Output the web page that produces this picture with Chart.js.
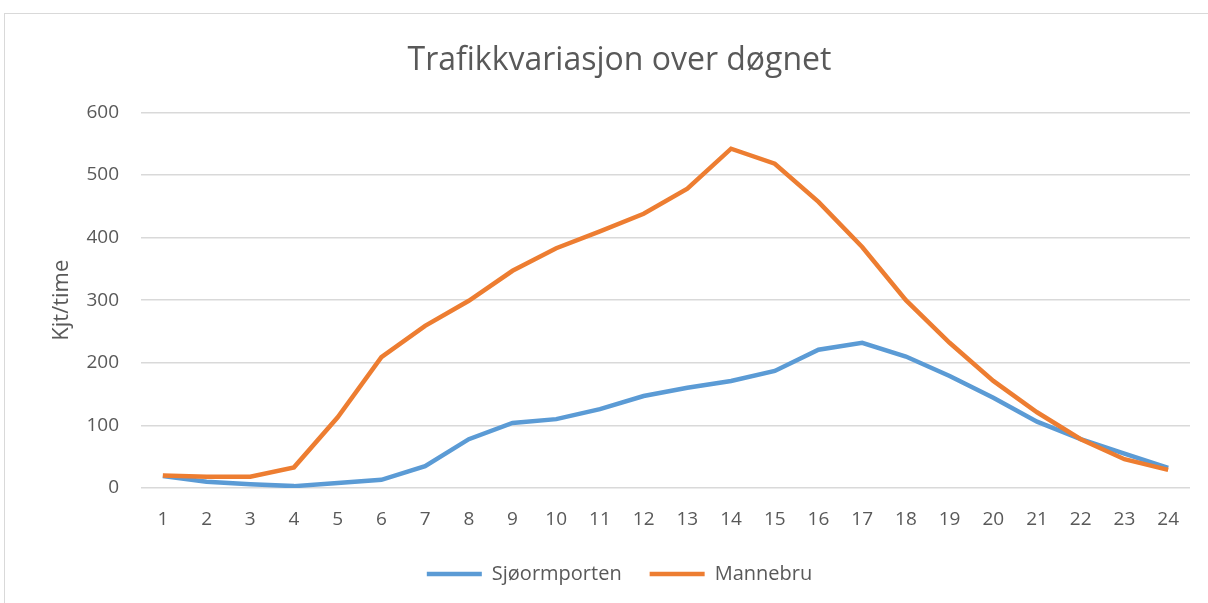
<!DOCTYPE html>
<html>
<head>
<meta charset="utf-8">
<script src="https://cdn.jsdelivr.net/npm/chart.js@4/dist/chart.umd.min.js"></script>
<style>
	html, body { margin: 0; padding: 0; background: #fff; overflow: hidden; }
	#wrap { position: absolute; left: 0; top: 0; width: 1208px; height: 603px; }
	#frame { position: absolute; left: 4px; top: 13px; width: 1300px; height: 700px; border: 1px solid #d9d9d9; }
</style>
</head>
<body>
<div id="frame"></div>
<div id="wrap"><canvas id="chart" width="1208" height="603"></canvas></div>
<script>
// hours of the day
var hours = ["1", "2", "3", "4", "5", "6", "7", "8", "9", "10", "11", "12",
	"13", "14", "15", "16", "17", "18", "19", "20", "21", "22", "23", "24"];

// vehicles per hour
var sjoormporten = [19, 10, 6, 3, 8, 13, 35, 78, 104, 110, 126, 147,
	160, 171, 187, 221, 232, 210, 179, 144, 106, 78, 55, 32];
var mannebru = [20, 18, 18, 33, 113, 209, 259, 299, 347, 383, 410, 438,
	478, 542, 518, 457, 385, 300, 232, 171, 121, 78, 46, 29];

var yTicks = [0, 100, 200, 300, 400, 500, 600];

var FONT = "'Open Sans', sans-serif";
var TXT = "#595959";
var GRID = "#d9d9d9";

new Chart(document.getElementById("chart"), {
	type: "line",
	data: {
		labels: hours,
		datasets: [
			{
				label: "Sjøormporten",
				data: sjoormporten,
				borderColor: "#5b9bd5",
				backgroundColor: "#5b9bd5",
				borderWidth: 4.5,
				pointRadius: 0,
				tension: 0,
				order: 1,
			},
			{
				label: "Mannebru",
				data: mannebru,
				borderColor: "#ed7d31",
				backgroundColor: "#ed7d31",
				borderWidth: 4.5,
				pointRadius: 0,
				tension: 0,
				order: 0,
			},
		],
	},
	options: {
		responsive: false,
		animation: false,
		layout: { padding: { left: 49, right: 18, top: 0, bottom: 9 } },
		plugins: {
			title: {
				display: true,
				text: "Trafikkvariasjon over døgnet",
				color: TXT,
				font: { family: FONT, size: 32, weight: "normal" },
				padding: { top: 42, bottom: 32 },
			},
			legend: {
				position: "bottom",
				labels: {
					usePointStyle: true,
					pointStyle: "line",
					pointStyleWidth: 55,
					boxHeight: 20,
					color: TXT,
					padding: 28,
					font: { family: FONT, size: 20 },
					sort: (a, b) => a.datasetIndex - b.datasetIndex,
				},
			},
			tooltip: { enabled: false },
		},
		scales: {
			x: {
				offset: true,
				grid: { display: false },
				border: { display: false },
				ticks: { color: TXT, font: { family: FONT, size: 19 }, padding: 12, maxRotation: 0 },
				afterFit: (s) => { s.height = 48; },
			},
			y: {
				min: 0,
				max: 600,
				afterBuildTicks: (s) => { s.ticks = yTicks.map((v) => ({ value: v })); },
				grid: { color: GRID, lineWidth: 1.5, drawTicks: false },
				border: { display: false },
				ticks: { color: TXT, font: { family: FONT, size: 19 }, padding: 22 },
				title: {
					display: true,
					text: "Kjt/time",
					color: TXT,
					font: { family: FONT, size: 22 },
					padding: 0,
				},
				afterFit: (s) => { s.width = 92; },
			},
		},
	},
});
</script>
</body>
</html>
